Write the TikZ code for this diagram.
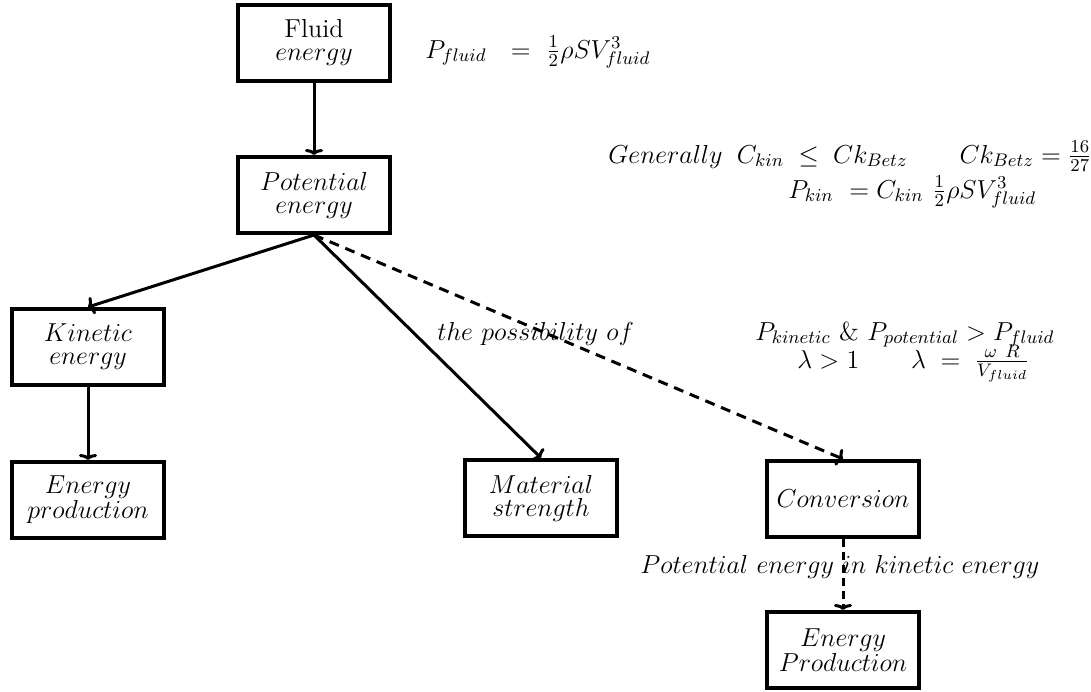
\RequirePackage{fix-cm}
\documentclass[tikz,border=0pt]{standalone}
\usetikzlibrary{arrows.meta}
\begin{document}
\begin{tikzpicture}[x=0.5pt,y=-0.5pt,
    box/.style={draw,line width=2pt,minimum width=76pt,minimum height=38pt,
      inner sep=2pt,align=center,font=\fontsize{13}{11.5}\selectfont},
    txt/.style={anchor=base west,inner sep=0pt,font=\fontsize{13}{14}\selectfont},
    >={To[length=3pt,width=9pt]}]
  \useasboundingbox (0,0) rectangle (1091,691);
  \draw
    (314,43) node[box] (fluid){Fluid\\$energy$}
    (314,195) node[box] (pot){$Potential$\\$energy$}
    (88,347) node[box] (kin){$Kinetic$\\$energy$}
    (88,500) node[box] (prod){$Energy$\\$production$}
    (541,498) node[box] (mat){$Material$\\$strength$}
    (843,499) node[box] (conv){$Conversion$}
    (843,650) node[box] (prod2){$Energy$\\$Production$};
  \draw
    (425,58) node[txt] (pfluid){$P_{fluid}\ \ =\ \frac{1}{2}\rho S V^3_{fluid}$}
    (608,163) node[txt] (betz){$Generally\;\;C_{kin}\;\le\;Ck_{Betz}\qquad Ck_{Betz}=\frac{16}{27}$}
    (788,198) node[txt] (pkin){$P_{kin}\ = C_{kin}\ \frac{1}{2}\rho S V^3_{fluid}$}
    (437,340) node[txt] (poss){$the\ possibility\ of$}
    (755,340) node[txt] (pcomp){$P_{kinetic}\ \&\ P_{potential} > P_{fluid}$}
    (797,368) node[txt] (lambda){$\lambda > 1\qquad \lambda\;=\;\frac{\omega\ R}{V_{fluid}}$}
    (640,573) node[txt] (conv_lbl){$Potential\ energy\ in\ kinetic\ energy$};
  \begin{scope}[->,line width=1.5pt]
    \draw (fluid) to (pot);
    \draw (pot.south) to (kin.north);
    \draw (pot.south) to (mat.north);
    \draw (kin) to (prod);
    \draw[dash pattern=on 5pt off 3.5pt] (pot.south) to (conv.north);
    \draw[dash pattern=on 4pt off 2.5pt] (conv) to (prod2);
  \end{scope}
\end{tikzpicture}
\end{document}
